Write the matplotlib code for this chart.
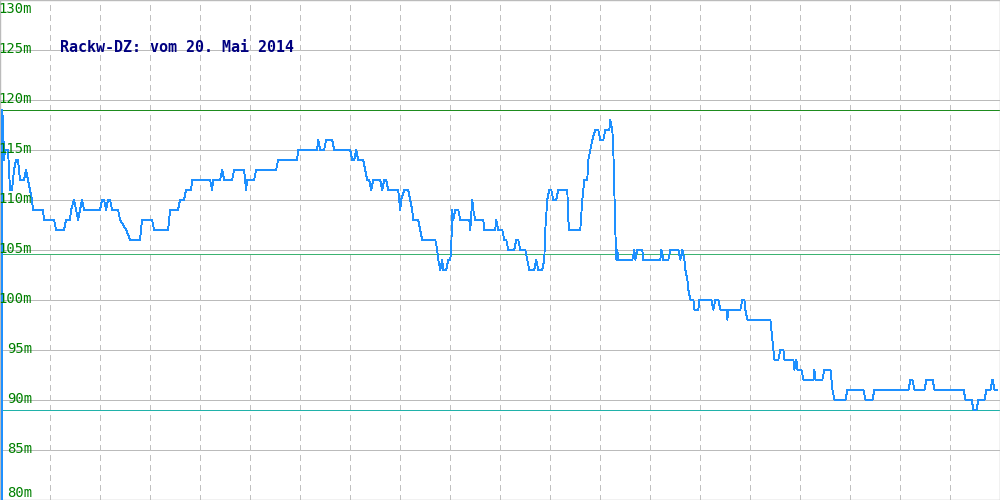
import matplotlib
matplotlib.use("Agg")
import matplotlib.pyplot as plt

# ---- data (x = sample position, value in m) ----
xs = [1.5, 2, 3, 4, 5, 8, 10, 12, 14, 16, 18, 20, 24, 26, 28, 30, 32, 33, 43, 44, 54, 56, 64, 66, 70, 71,
      74, 78, 82, 84, 100, 102, 104, 106, 108, 110, 112, 118, 120, 126, 130, 140, 142, 152, 154, 168, 170,
      178, 180, 184, 186, 191, 192, 210, 212, 213, 220, 222, 224, 232, 234, 244, 246, 247, 254, 256, 276,
      278, 297, 298, 317, 318, 320, 324, 326, 332, 334, 350, 352, 354, 356, 358, 363, 365, 367, 369, 371,
      373, 380, 382, 384, 386, 388, 398, 400, 401, 404, 408, 410, 412, 413, 418, 420, 422, 435, 437, 438,
      440, 442, 443, 446, 448, 450, 451, 452, 453, 455, 458, 460, 469, 470, 472, 473, 475, 483, 484, 495,
      496, 498, 502, 504, 506, 508, 514, 516, 518, 520, 525, 527, 529, 534, 536, 538, 542, 544, 545, 547,
      549, 551, 553, 556, 558, 567, 568, 569, 580, 582, 583, 584, 587, 588, 590, 592, 595, 598, 600, 603,
      605, 609, 610, 612, 613, 614, 615, 616, 617, 618, 632, 634, 635, 637, 642, 643, 660, 661, 663, 668,
      670, 678, 680, 682, 684, 685, 687, 688, 690, 693, 694, 698, 699, 711, 713, 715, 718, 720, 726, 727,
      728, 740, 742, 744, 745, 747, 770, 772, 774, 778, 780, 783, 784, 793, 794, 796, 797, 801, 803, 813,
      814, 815, 822, 824, 830, 832, 834, 845, 847, 863, 865, 872, 874, 908, 910, 912, 914, 924, 926, 932,
      934, 963, 965, 971, 973, 976, 978, 984, 986, 990, 992, 994, 997]
vals = [60, 119, 118, 114, 115, 115, 111, 111, 113, 114, 114, 112, 112, 113, 112, 111, 110, 109, 109, 108,
        108, 107, 107, 108, 108, 109, 110, 108, 110, 109, 109, 110, 110, 109, 110, 110, 109, 109, 108, 107,
        106, 106, 108, 108, 107, 107, 109, 109, 110, 110, 111, 111, 112, 112, 111, 112, 112, 113, 112, 112,
        113, 113, 111, 112, 112, 113, 113, 114, 114, 115, 115, 116, 115, 115, 116, 116, 115, 115, 114, 114,
        115, 114, 114, 113, 112, 112, 111, 112, 112, 111, 112, 112, 111, 111, 109, 110, 111, 111, 110, 109,
        108, 108, 107, 106, 106, 105, 104, 103, 104, 103, 103, 104, 104, 105, 109, 108, 109, 109, 108, 108,
        107, 110, 109, 108, 108, 107, 107, 108, 107, 107, 106, 106, 105, 105, 106, 106, 105, 105, 104, 103,
        103, 104, 103, 103, 104, 107, 110, 111, 111, 110, 110, 111, 111, 108, 107, 107, 110, 111, 112, 112,
        114, 115, 116, 117, 117, 116, 116, 117, 117, 118, 117, 115, 111, 107, 104, 105, 104, 104, 105, 104,
        105, 105, 104, 104, 105, 104, 104, 105, 105, 104, 105, 104, 103, 102, 101, 100, 100, 99, 99, 100,
        100, 99, 100, 100, 99, 99, 98, 99, 99, 100, 100, 99, 98, 98, 96, 94, 94, 95, 95, 94, 94, 93, 94, 93,
        93, 92, 92, 93, 92, 92, 93, 93, 91, 90, 90, 91, 91, 90, 90, 91, 91, 92, 92, 91, 91, 92, 92, 91, 91,
        90, 90, 89, 89, 90, 90, 91, 91, 92, 91, 91]

ytick_vals = [130, 125, 120, 115, 110, 105, 100, 95, 90, 85, 80]
ytick_labels = ["130m", "125m", "120m", "115m", "110m", "105m", "100m", "95m", "90m", "85m", "80m"]
vgrid_x = list(range(50, 1000, 50))
ref_levels = [119.0, 104.55, 88.97]
ref_colors = ["#1e8c1e", "#3cb371", "#20b2aa"]
title = "Rackw-DZ: vom 20. Mai 2014"

fig = plt.figure(figsize=(10, 5), dpi=100)
ax = fig.add_axes([0, 0, 1, 1])
ax.set_xlim(0, 999.5)
ax.set_ylim(79.95, 130)
ax.set_xticks([])
ax.set_yticks([])
for s in ax.spines.values():
    s.set_color("#bbbbbb")
    s.set_linewidth(1.0)

for v in ytick_vals:
    ax.axhline(v, color="#bbbbbb", lw=0.6, zorder=1, antialiased=False)
for x in vgrid_x:
    ax.axvline(x, color="#c0c0c0", lw=0.6, linestyle=(0, (7, 5)), zorder=1, antialiased=False)
for lv, c in zip(ref_levels, ref_colors):
    ax.axhline(lv, color=c, lw=0.6, zorder=2, antialiased=False)

ax.plot(xs, vals, color="#1e90ff", lw=0.65, zorder=3, antialiased=False)

for v, lab in zip(ytick_vals, ytick_labels):
    if v == 130:
        y, va = 129.75, "top"
    elif v == 80:
        y, va = 80.65, "center"
    else:
        y, va = v + 0.1, "center"
    ax.text(32, y, lab, ha="right", va=va, color="#008000", fontsize=10,
            family="DejaVu Sans Mono", zorder=4)

ax.text(60, 125.2, title, ha="left", va="center", color="#000080", fontsize=10.8,
        fontweight="bold", family="DejaVu Sans Mono", zorder=4)

fig.savefig("out.png", dpi=100)
